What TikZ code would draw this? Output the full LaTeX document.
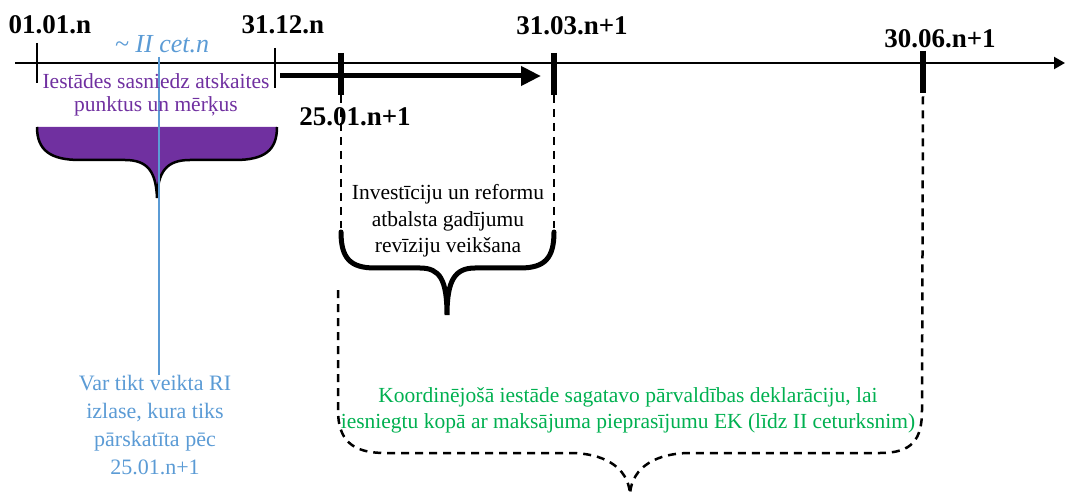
\documentclass[tikz,border=0pt]{standalone}
\usepackage{fontspec}
\setmainfont{Liberation Serif}
\usetikzlibrary{arrows.meta}
\definecolor{pur}{HTML}{7030A0}
\definecolor{lblue}{HTML}{5B9BD5}
\definecolor{grn}{HTML}{00B050}
\begin{document}
\begin{tikzpicture}[x=1pt,y=-1pt,
  datelbl/.style={font=\fontsize{27}{30}\selectfont\bfseries, inner sep=0pt},
  thintick/.style={line width=1.2pt},
  thicktick/.style={line width=6pt},
  dashline/.style={line width=2.5pt, dash pattern=on 8pt off 6pt},
  bodytxt/.style={align=center, inner sep=0pt}]
\useasboundingbox (0,0) rectangle (1065,494);
% axis
\coordinate (axL) at (15,63);
\coordinate (axR) at (1065,63);
\draw[line width=2.2pt, -{Triangle[length=11pt,width=12pt]}] (axL) -- (axR);
% thin ticks
\coordinate (t1a) at (37,43); \coordinate (t1b) at (37,83);
\coordinate (t2a) at (275,48); \coordinate (t2b) at (275,88);
\draw[thintick] (t1a) -- (t1b);
\draw[thintick] (t2a) -- (t2b);
% thick ticks
\coordinate (k1a) at (341,53); \coordinate (k1b) at (341,95);
\coordinate (k2a) at (554,53); \coordinate (k2b) at (554,95);
\coordinate (k3a) at (923,51); \coordinate (k3b) at (923,93);
\draw[thicktick] (k1a) -- (k1b);
\draw[thicktick] (k2a) -- (k2b);
\draw[thicktick] (k3a) -- (k3b);
% thick arrow
\coordinate (ar1) at (280,76); \coordinate (ar2) at (541,76);
\draw[line width=5pt, -{Triangle[length=20pt,width=16pt,angle'=50]}] (ar1) -- (ar2);
% date labels
\node[datelbl] (d1) at (50,25) {01.01.n};
\node[datelbl] (d2) at (283,25) {31.12.n};
\node[datelbl] (d3) at (572,26) {31.03.n+1};
\node[datelbl] (d4) at (940,39) {30.06.n+1};
\node[datelbl] (d5) at (355,117) {25.01.n+1};
% II cet
\node[font=\fontsize{26}{30}\selectfont\itshape, text=lblue, inner sep=0pt] (cet) at (162,44) {\textasciitilde{} II cet.n};
% blue line
\coordinate (bl1) at (159,57); \coordinate (bl2) at (159,375);
% purple brace
\fill[pur] (37,127) .. controls (37,150) and (50,160) .. (80,160) -- (125,160) .. controls (148,160) and (156,172) .. (157,198) .. controls (158,172) and (166,160) .. (190,160) -- (235,160) .. controls (265,160) and (277,150) .. (277,127) -- cycle;
\draw[line width=2.5pt] (37,127) .. controls (37,150) and (50,160) .. (80,160) -- (125,160) .. controls (148,160) and (156,172) .. (157,198) .. controls (158,172) and (166,160) .. (190,160) -- (235,160) .. controls (265,160) and (277,150) .. (277,127);
\draw[lblue, line width=1.2pt] (bl1) -- (bl2);
% purple text
\node[bodytxt, font=\fontsize{21.5}{23.5}\selectfont, text=pur] (ptxt) at (156,95) {Iestādes sasniedz atskaites\\punktus un mērķus};
% blue text
\node[bodytxt, font=\fontsize{22}{28}\selectfont, text=lblue] (btxt) at (155,425) {Var tikt veikta RI\\izlase, kura tiks\\pārskatīta pēc\\25.01.n+1};
% dashed verticals
\coordinate (dv1) at (341,228); \coordinate (dv2) at (554,228);
\draw[dashline] (k1b) -- (dv1);
\draw[dashline] (k2b) -- (dv2);
% black brace
\draw[line width=5pt, line cap=round] (341,232) .. controls (341,258) and (350,268) .. (375,268) -- (420,268) .. controls (440,268) and (447,280) .. (447,315) .. controls (447,280) and (455,268) .. (475,268) -- (520,268) .. controls (545,268) and (554,258) .. (554,232);
\node[bodytxt, font=\fontsize{21.5}{26.5}\selectfont, text=black] (itxt) at (448,221) {Investīciju un reformu\\atbalsta gadījumu\\revīziju veikšana};
% big dashed brace
\draw[dashline] (338,290) -- (338,410) .. controls (338,440) and (352,453) .. (385,453) -- (570,453) .. controls (602,453) and (628,466) .. (630,494) .. controls (632,466) and (658,453) .. (690,453) -- (880,453) .. controls (912,453) and (922,440) .. (922,410) -- (k3b);
\node[bodytxt, font=\fontsize{21.5}{26}\selectfont, text=grn] (gtxt) at (628,410) {Koordinējošā iestāde sagatavo pārvaldības deklarāciju, lai\\iesniegtu kopā ar maksājuma pieprasījumu EK (līdz II ceturksnim)};
\end{tikzpicture}
\end{document}
